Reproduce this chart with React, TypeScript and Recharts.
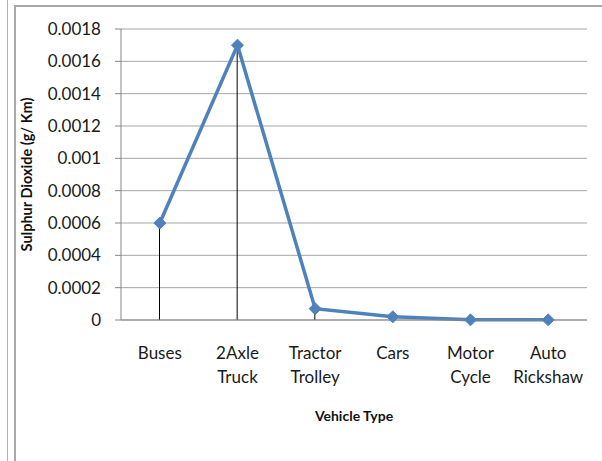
import React from "react";
import { ComposedChart, Line, Bar, XAxis, YAxis, CartesianGrid } from "recharts";

const vehicles = ["Buses", "2Axle\nTruck", "Tractor\nTrolley", "Cars", "Motor\nCycle", "Auto\nRickshaw"];
const so2 = [0.0006, 0.0017, 0.00007, 0.00002, 0.000001, 0.000001];
const yTicks = [0, 0.0002, 0.0004, 0.0006, 0.0008, 0.001, 0.0012, 0.0014, 0.0016, 0.0018];

const data = vehicles.map((name, i) => ({ name, value: so2[i] }));

const FONT = "Lato, 'Open Sans', sans-serif";

function VehicleTick(props: any) {
  const { x, y, payload } = props;
  const lines = String(payload.value).split("\n");
  return (
    <text x={x} y={y} textAnchor="middle" fill="#1a1a1a" fontFamily={FONT} fontSize={17}>
      {lines.map((l, i) => (
        <tspan key={i} x={x} dy={i === 0 ? 31 : 24}>{l}</tspan>
      ))}
    </text>
  );
}

function Diamond(props: any) {
  const { cx, cy } = props;
  if (cx == null || cy == null) return null;
  const r = 6;
  return (
    <path
      d={`M${cx},${cy - r} L${cx + r},${cy} L${cx},${cy + r} L${cx - r},${cy} Z`}
      fill="#4F81BD"
      stroke="#4F81BD"
    />
  );
}

export default function App() {
  return (
    <div style={{ position: "absolute", left: 0, top: 0, width: 602, height: 461, background: "#fff", overflow: "hidden" }}>
      {/* window edges */}
      <div style={{ position: "absolute", left: 7, top: 0, width: 1, height: 461, background: "#b4b4b4" }} />
      <div style={{ position: "absolute", left: 14, top: 5, width: 600, height: 470, border: "2px solid #a8a8a8", boxSizing: "border-box" }} />
      <div style={{ position: "absolute", left: 0, top: 0 }}>
        <ComposedChart width={602} height={461} data={data} margin={{ top: 29, right: 15, left: 0, bottom: 0 }}>
          <CartesianGrid vertical={false} stroke="#a6a6a6" strokeWidth={1} />
          <XAxis
            dataKey="name"
            height={141}
            interval={0}
            tickLine={false}
            axisLine={{ stroke: "#868686" }}
            tick={<VehicleTick />}
            label={{
              content: (p: any) => {
                const vb = p.viewBox;
                return (
                  <text x={vb.x + vb.width / 2} y={415} textAnchor="middle" dominantBaseline="central"
                    fontFamily={FONT} fontSize={14} fontWeight="bold" fill="#111">
                    Vehicle Type
                  </text>
                );
              },
            }}
          />
          <YAxis
            width={121}
            domain={[0, 0.0018]}
            ticks={yTicks}
            interval={0}
            tickSize={6}
            tickMargin={14}
            tickLine={{ stroke: "#868686" }}
            axisLine={{ stroke: "#868686" }}
            tick={{ fill: "#1a1a1a", fontFamily: FONT, fontSize: 17 }}
            label={{
              content: (p: any) => {
                const vb = p.viewBox;
                const cx = 26;
                const cy = vb.y + vb.height / 2;
                return (
                  <text x={cx} y={cy} textAnchor="middle" dominantBaseline="central"
                    transform={`rotate(-90 ${cx} ${cy})`}
                    fontFamily={FONT} fontSize={14.5} fontWeight="bold" fill="#111">
                    Sulphur Dioxide (g/ Km)
                  </text>
                );
              },
            }}
          />
          <Bar dataKey="value" barSize={1} fill="#000" isAnimationActive={false} />
          <Line
            dataKey="value"
            stroke="#4F81BD"
            strokeWidth={3.5}
            type="linear"
            dot={<Diamond />}
            activeDot={false}
            isAnimationActive={false}
          />
        </ComposedChart>
      </div>
    </div>
  );
}
